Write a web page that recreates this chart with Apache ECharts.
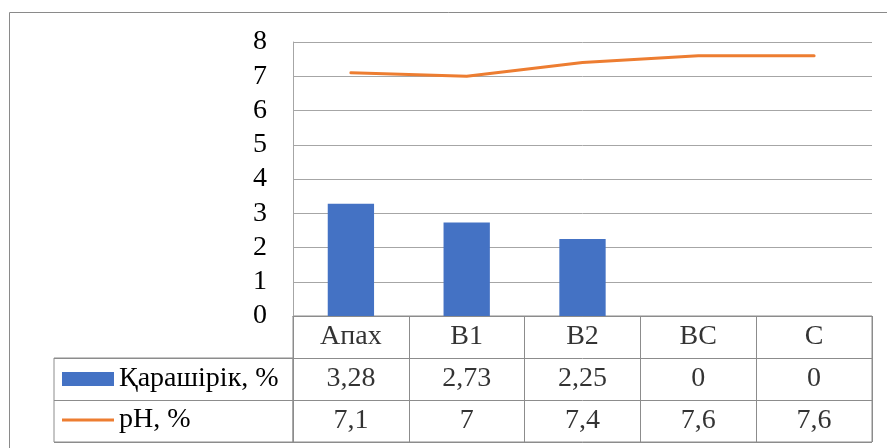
<!DOCTYPE html>
<html>
<head>
<meta charset="utf-8">
<script src="https://cdn.jsdelivr.net/npm/echarts@6/dist/echarts.min.js"></script>
<style>
  html, body { margin: 0; padding: 0; background: #fff; }
  #chart { width: 887px; height: 448px; }
</style>
</head>
<body>
<div id="chart"></div>
<script>
// Soil horizons and measured values
const categories = ['Апах', 'B1', 'B2', 'BC', 'C'];
const humus = [3.28, 2.73, 2.25, 0, 0];
const ph = [7.1, 7, 7.4, 7.6, 7.6];
const seriesNames = ['Қарашірік, %', 'pH, %'];
const yMin = 0, yMax = 8, yStep = 1;

// Rows of the data table under the plot (bottom to top)
const tableRows = ['ph', 'humus', 'head'];
const legendRows = ['ph', 'humus'];

const FONT = "'Liberation Serif', 'Times New Roman', serif";
const FS = 28;
const gridColor = '#a6a6a6';
const tableColor = '#8c8c8c';

const fmt = v => String(v).replace('.', ',');

// Cell texts placed on the table's category axes
const cells = [];
categories.forEach((c, i) => {
  cells.push({ value: [c, 'head'], label: { formatter: c } });
  cells.push({ value: [c, 'humus'], label: { formatter: fmt(humus[i]) } });
  cells.push({ value: [c, 'ph'], label: { formatter: fmt(ph[i]) } });
});

const chart = echarts.init(document.getElementById('chart'), null, { renderer: 'canvas' });

const legendBase = {
  left: 62,
  orient: 'horizontal',
  padding: 0,
  itemWidth: 52,
  itemGap: 0,
  icon: 'rect',
  selectedMode: false,
  textStyle: { fontFamily: FONT, fontSize: FS, color: '#000', lineHeight: 28 }
};

chart.setOption({
  animation: false,
  backgroundColor: '#fff',
  graphic: [{
    type: 'rect',
    silent: true,
    shape: { x: 9.5, y: 12.5, width: 1000, height: 1000 },
    style: { fill: 'none', stroke: '#8a8a8a', lineWidth: 1 }
  }],
  legend: [
    Object.assign({}, legendBase, { top: 365, itemHeight: 14, data: [seriesNames[0]] }),
    Object.assign({}, legendBase, { top: 406, itemHeight: 3, data: [seriesNames[1]] })
  ],
  grid: [
    { left: 293, top: 42, right: 15, bottom: 132, containLabel: false, outerBoundsMode: 'none' },
    { left: 293, top: 316, right: 15, height: 126, containLabel: false, outerBoundsMode: 'none',
      show: true, borderColor: tableColor, borderWidth: 1, backgroundColor: 'transparent' },
    { left: 54, top: 358, width: 239, height: 84, containLabel: false, outerBoundsMode: 'none',
      show: true, borderColor: tableColor, borderWidth: 1, backgroundColor: 'transparent' }
  ],
  xAxis: [
    {
      gridIndex: 0, type: 'category', data: categories, boundaryGap: true,
      axisLine: { show: true, lineStyle: { color: tableColor } },
      axisTick: { show: false }, axisLabel: { show: false }, splitLine: { show: false }
    },
    {
      gridIndex: 1, type: 'category', data: categories, boundaryGap: true,
      axisLine: { show: false }, axisTick: { show: false }, axisLabel: { show: false },
      splitLine: { show: true, interval: 0, lineStyle: { color: tableColor } }
    },
    {
      gridIndex: 2, type: 'category', data: [''], boundaryGap: true,
      axisLine: { show: false }, axisTick: { show: false }, axisLabel: { show: false },
      splitLine: { show: false }
    }
  ],
  yAxis: [
    {
      gridIndex: 0, type: 'value', min: yMin, max: yMax, interval: yStep,
      axisLine: { show: true, lineStyle: { color: gridColor } },
      axisTick: { show: false },
      axisLabel: { fontFamily: FONT, fontSize: FS, color: '#000', margin: 26 },
      splitLine: { show: true, lineStyle: { color: gridColor } }
    },
    {
      gridIndex: 1, type: 'category', data: tableRows, boundaryGap: true,
      axisLine: { show: false }, axisTick: { show: false }, axisLabel: { show: false },
      splitLine: { show: true, interval: 0, lineStyle: { color: tableColor } }
    },
    {
      gridIndex: 2, type: 'category', data: legendRows, boundaryGap: true,
      axisLine: { show: false }, axisTick: { show: false }, axisLabel: { show: false },
      splitLine: { show: true, interval: 0, lineStyle: { color: tableColor } }
    }
  ],
  series: [
    {
      name: seriesNames[0], type: 'bar', xAxisIndex: 0, yAxisIndex: 0,
      data: humus, barWidth: '40%', itemStyle: { color: '#4472C4' }, silent: true
    },
    {
      name: seriesNames[1], type: 'line', xAxisIndex: 0, yAxisIndex: 0,
      data: ph, symbol: 'none', color: '#ED7D31', itemStyle: { color: '#ED7D31' },
      lineStyle: { color: '#ED7D31', width: 3, cap: 'round', join: 'round' }, silent: true
    },
    {
      name: 'table', type: 'scatter', xAxisIndex: 1, yAxisIndex: 1,
      data: cells, symbolSize: 1, itemStyle: { color: 'rgba(0,0,0,0)' }, silent: true,
      label: { show: true, position: 'inside', fontFamily: FONT, fontSize: FS, color: '#000' }
    }
  ]
});
</script>
</body>
</html>
